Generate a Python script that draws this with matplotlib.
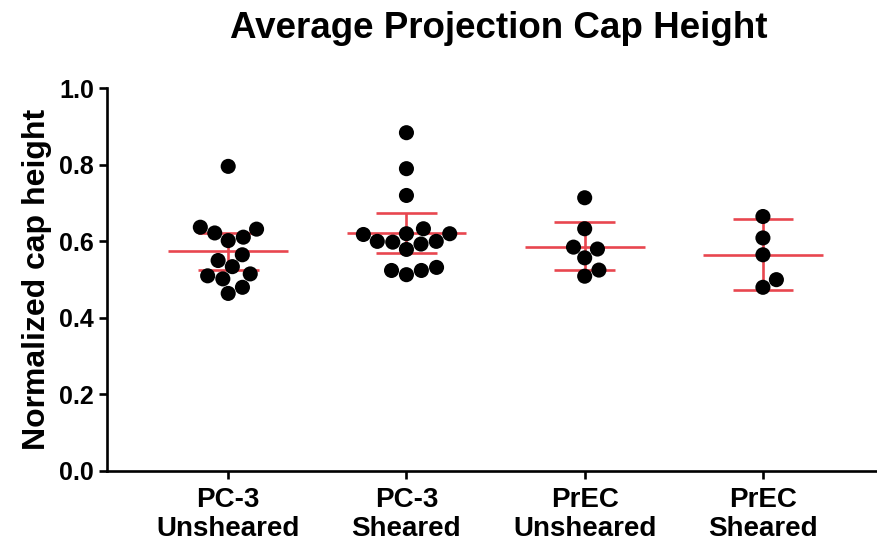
import numpy as np
import matplotlib
matplotlib.use("Agg")
import matplotlib.pyplot as plt

plt.rcParams['font.family'] = ['Liberation Sans', 'DejaVu Sans']
plt.rcParams['font.weight'] = 'bold'

# Normalized cap height per condition
categories = ["PC-3\nUnsheared", "PC-3\nSheared", "PrEC\nUnsheared", "PrEC\nSheared"]
pc3_unsheared = [0.796, 0.637, 0.632, 0.622, 0.611, 0.602, 0.565, 0.550,
                 0.534, 0.515, 0.510, 0.502, 0.480, 0.464]
pc3_sheared = [0.884, 0.790, 0.720, 0.633, 0.620, 0.618, 0.598, 0.593,
               0.579, 0.600, 0.600, 0.620, 0.524, 0.513, 0.524, 0.532]
prec_unsheared = [0.714, 0.633, 0.580, 0.585, 0.557, 0.525, 0.509]
prec_sheared = [0.665, 0.609, 0.565, 0.500, 0.480]
groups = [pc3_unsheared, pc3_sheared, prec_unsheared, prec_sheared]

# Mean with 95% confidence interval
means = [0.574, 0.621, 0.586, 0.565]
ci_low = [0.525, 0.570, 0.524, 0.473]
ci_high = [0.621, 0.674, 0.650, 0.659]

yticks = [0.0, 0.2, 0.4, 0.6, 0.8, 1.0]

RED = '#E8464F'

fig = plt.figure(figsize=(8.78, 5.54), dpi=100)
ax = fig.add_axes([107 / 878, 1 - 471 / 554, (877 - 107) / 878, (471 - 88.3) / 554])
ax.set_xlim(-0.68, 3.64)
ax.set_ylim(0, 1.0)

for s in ['top', 'right']:
    ax.spines[s].set_visible(False)
for s in ['left', 'bottom']:
    ax.spines[s].set_linewidth(1.9)

ax.set_yticks(yticks)
ax.set_yticklabels([f"{t:.1f}" for t in yticks])
ax.set_xticks(range(len(categories)))
ax.set_xticklabels(categories, linespacing=1.15)
ax.tick_params(axis='both', width=1.9, length=5.5)
ax.tick_params(axis='y', pad=4, labelsize=18)
ax.tick_params(axis='x', pad=6, labelsize=20)
for lbl in ax.get_xticklabels() + ax.get_yticklabels():
    lbl.set_fontweight('bold')

ax.set_ylabel("Normalized cap height", fontsize=23, fontweight='bold', labelpad=5)
fig.text(499 / 878, 1 - 28 / 554, "Average Projection Cap Height",
         ha='center', va='center', fontsize=26.5, fontweight='bold')

# Beeswarm layout computed in pixel space
fig.canvas.draw()
T = ax.transData
px_per_x = T.transform((1, 0))[0] - T.transform((0, 0))[0]


def swarm_offsets(vals, diam):
    ys = np.array([T.transform((0, v))[1] for v in vals])
    order = np.argsort(ys)
    xs = np.zeros(len(vals))
    placed = []
    for i in order:
        y = ys[i]
        cands = [0.0]
        for px, py in placed:
            dy = y - py
            if abs(dy) < diam:
                dx = np.sqrt(diam ** 2 - dy ** 2)
                cands += [px + dx, px - dx]
        cands.sort(key=abs)
        for c in cands:
            if all((c - px) ** 2 + (y - py) ** 2 >= diam ** 2 - 1e-6 for px, py in placed):
                xs[i] = c
                break
        placed.append((xs[i], y))
    return xs / px_per_x


mean_half = 0.336
cap_half = 0.17
for i, vals in enumerate(groups):
    ax.hlines(means[i], i - mean_half, i + mean_half, color=RED, lw=1.9, zorder=2)
    ax.hlines([ci_low[i], ci_high[i]], i - cap_half, i + cap_half, color=RED, lw=1.9, zorder=2)
    ax.vlines(i, ci_low[i], ci_high[i], color=RED, lw=1.9, zorder=2)
    offs = swarm_offsets(vals, 15.5)
    ax.scatter(i + offs, vals, s=118, color='black', edgecolors='none', zorder=3, clip_on=False)

fig.savefig("out.png", dpi=100)
